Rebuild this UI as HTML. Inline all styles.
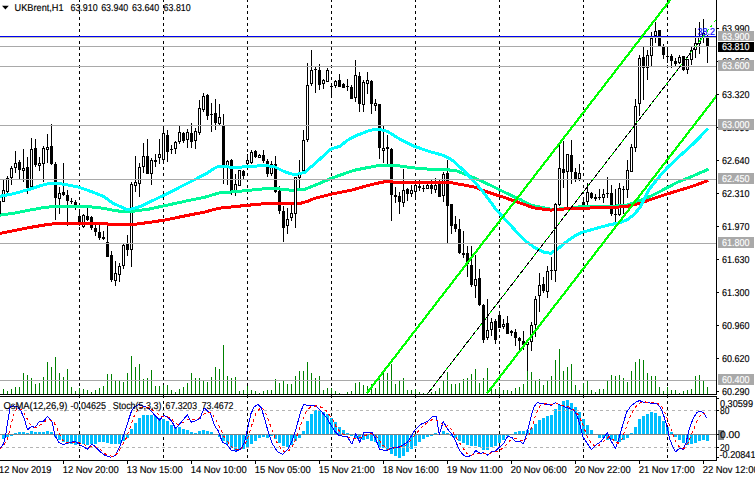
<!DOCTYPE html>
<html><head><meta charset="utf-8"><title>UKBrent H1</title>
<style>html,body{margin:0;padding:0;background:#fff;overflow:hidden}body{width:755px;height:480px;font-family:"Liberation Sans",sans-serif}</style>
</head><body><svg width="755" height="480" viewBox="0 0 755 480" style="display:block"><g shape-rendering="crispEdges">
<line x1="79.5" y1="-1" x2="79.5" y2="394" stroke="#000" stroke-width="1" stroke-dasharray="3,3"/>
<line x1="79.5" y1="395" x2="79.5" y2="460" stroke="#000" stroke-width="1" stroke-dasharray="3,3"/>
<line x1="163.5" y1="-1" x2="163.5" y2="394" stroke="#000" stroke-width="1" stroke-dasharray="3,3"/>
<line x1="163.5" y1="395" x2="163.5" y2="460" stroke="#000" stroke-width="1" stroke-dasharray="3,3"/>
<line x1="247.5" y1="-1" x2="247.5" y2="394" stroke="#000" stroke-width="1" stroke-dasharray="3,3"/>
<line x1="247.5" y1="395" x2="247.5" y2="460" stroke="#000" stroke-width="1" stroke-dasharray="3,3"/>
<line x1="331.5" y1="-1" x2="331.5" y2="394" stroke="#000" stroke-width="1" stroke-dasharray="3,3"/>
<line x1="331.5" y1="395" x2="331.5" y2="460" stroke="#000" stroke-width="1" stroke-dasharray="3,3"/>
<line x1="415.5" y1="-1" x2="415.5" y2="394" stroke="#000" stroke-width="1" stroke-dasharray="3,3"/>
<line x1="415.5" y1="395" x2="415.5" y2="460" stroke="#000" stroke-width="1" stroke-dasharray="3,3"/>
<line x1="499.5" y1="-1" x2="499.5" y2="394" stroke="#000" stroke-width="1" stroke-dasharray="3,3"/>
<line x1="499.5" y1="395" x2="499.5" y2="460" stroke="#000" stroke-width="1" stroke-dasharray="3,3"/>
<line x1="583.5" y1="-1" x2="583.5" y2="394" stroke="#000" stroke-width="1" stroke-dasharray="3,3"/>
<line x1="583.5" y1="395" x2="583.5" y2="460" stroke="#000" stroke-width="1" stroke-dasharray="3,3"/>
<line x1="667.5" y1="-1" x2="667.5" y2="394" stroke="#000" stroke-width="1" stroke-dasharray="3,3"/>
<line x1="667.5" y1="395" x2="667.5" y2="460" stroke="#000" stroke-width="1" stroke-dasharray="3,3"/>
<rect x="3" y="389" width="1" height="5" fill="#008000"/>
<rect x="7" y="391" width="1" height="3" fill="#008000"/>
<rect x="11" y="389" width="1" height="5" fill="#008000"/>
<rect x="15" y="387" width="1" height="7" fill="#008000"/>
<rect x="19" y="387" width="1" height="7" fill="#008000"/>
<rect x="23" y="373" width="1" height="21" fill="#008000"/>
<rect x="27" y="375" width="1" height="19" fill="#008000"/>
<rect x="31" y="378" width="1" height="16" fill="#008000"/>
<rect x="35" y="384" width="1" height="10" fill="#008000"/>
<rect x="39" y="383" width="1" height="11" fill="#008000"/>
<rect x="43" y="377" width="1" height="17" fill="#008000"/>
<rect x="47" y="362" width="1" height="32" fill="#008000"/>
<rect x="51" y="367" width="1" height="27" fill="#008000"/>
<rect x="55" y="357" width="1" height="37" fill="#008000"/>
<rect x="59" y="373" width="1" height="21" fill="#008000"/>
<rect x="63" y="377" width="1" height="17" fill="#008000"/>
<rect x="67" y="369" width="1" height="25" fill="#008000"/>
<rect x="71" y="387" width="1" height="7" fill="#008000"/>
<rect x="75" y="391" width="1" height="3" fill="#008000"/>
<rect x="79" y="388" width="1" height="6" fill="#008000"/>
<rect x="83" y="389" width="1" height="5" fill="#008000"/>
<rect x="87" y="390" width="1" height="4" fill="#008000"/>
<rect x="91" y="392" width="1" height="2" fill="#008000"/>
<rect x="95" y="390" width="1" height="4" fill="#008000"/>
<rect x="99" y="388" width="1" height="6" fill="#008000"/>
<rect x="103" y="386" width="1" height="8" fill="#008000"/>
<rect x="107" y="374" width="1" height="20" fill="#008000"/>
<rect x="111" y="374" width="1" height="20" fill="#008000"/>
<rect x="115" y="381" width="1" height="13" fill="#008000"/>
<rect x="119" y="381" width="1" height="13" fill="#008000"/>
<rect x="123" y="382" width="1" height="12" fill="#008000"/>
<rect x="127" y="373" width="1" height="21" fill="#008000"/>
<rect x="131" y="356" width="1" height="38" fill="#008000"/>
<rect x="135" y="367" width="1" height="27" fill="#008000"/>
<rect x="139" y="364" width="1" height="30" fill="#008000"/>
<rect x="143" y="379" width="1" height="15" fill="#008000"/>
<rect x="147" y="378" width="1" height="16" fill="#008000"/>
<rect x="151" y="370" width="1" height="24" fill="#008000"/>
<rect x="155" y="386" width="1" height="8" fill="#008000"/>
<rect x="159" y="386" width="1" height="8" fill="#008000"/>
<rect x="163" y="385" width="1" height="9" fill="#008000"/>
<rect x="167" y="385" width="1" height="9" fill="#008000"/>
<rect x="171" y="390" width="1" height="4" fill="#008000"/>
<rect x="175" y="392" width="1" height="2" fill="#008000"/>
<rect x="179" y="389" width="1" height="5" fill="#008000"/>
<rect x="183" y="387" width="1" height="7" fill="#008000"/>
<rect x="187" y="383" width="1" height="11" fill="#008000"/>
<rect x="191" y="373" width="1" height="21" fill="#008000"/>
<rect x="195" y="378" width="1" height="16" fill="#008000"/>
<rect x="199" y="378" width="1" height="16" fill="#008000"/>
<rect x="203" y="381" width="1" height="13" fill="#008000"/>
<rect x="207" y="382" width="1" height="12" fill="#008000"/>
<rect x="211" y="377" width="1" height="17" fill="#008000"/>
<rect x="215" y="367" width="1" height="27" fill="#008000"/>
<rect x="219" y="369" width="1" height="25" fill="#008000"/>
<rect x="223" y="345" width="1" height="49" fill="#008000"/>
<rect x="227" y="376" width="1" height="18" fill="#008000"/>
<rect x="231" y="378" width="1" height="16" fill="#008000"/>
<rect x="235" y="377" width="1" height="17" fill="#008000"/>
<rect x="239" y="391" width="1" height="3" fill="#008000"/>
<rect x="243" y="390" width="1" height="4" fill="#008000"/>
<rect x="247" y="386" width="1" height="8" fill="#008000"/>
<rect x="251" y="390" width="1" height="4" fill="#008000"/>
<rect x="255" y="391" width="1" height="3" fill="#008000"/>
<rect x="259" y="393" width="1" height="1" fill="#008000"/>
<rect x="263" y="391" width="1" height="3" fill="#008000"/>
<rect x="267" y="390" width="1" height="4" fill="#008000"/>
<rect x="271" y="390" width="1" height="4" fill="#008000"/>
<rect x="275" y="379" width="1" height="15" fill="#008000"/>
<rect x="279" y="383" width="1" height="11" fill="#008000"/>
<rect x="283" y="381" width="1" height="13" fill="#008000"/>
<rect x="287" y="384" width="1" height="10" fill="#008000"/>
<rect x="291" y="384" width="1" height="10" fill="#008000"/>
<rect x="295" y="376" width="1" height="18" fill="#008000"/>
<rect x="299" y="371" width="1" height="23" fill="#008000"/>
<rect x="303" y="371" width="1" height="23" fill="#008000"/>
<rect x="307" y="362" width="1" height="32" fill="#008000"/>
<rect x="311" y="373" width="1" height="21" fill="#008000"/>
<rect x="315" y="378" width="1" height="16" fill="#008000"/>
<rect x="319" y="376" width="1" height="18" fill="#008000"/>
<rect x="323" y="390" width="1" height="4" fill="#008000"/>
<rect x="327" y="388" width="1" height="6" fill="#008000"/>
<rect x="331" y="388" width="1" height="6" fill="#008000"/>
<rect x="335" y="391" width="1" height="3" fill="#008000"/>
<rect x="339" y="393" width="1" height="1" fill="#008000"/>
<rect x="347" y="392" width="1" height="2" fill="#008000"/>
<rect x="351" y="391" width="1" height="3" fill="#008000"/>
<rect x="355" y="383" width="1" height="11" fill="#008000"/>
<rect x="359" y="382" width="1" height="12" fill="#008000"/>
<rect x="363" y="385" width="1" height="9" fill="#008000"/>
<rect x="367" y="386" width="1" height="8" fill="#008000"/>
<rect x="371" y="384" width="1" height="10" fill="#008000"/>
<rect x="375" y="388" width="1" height="6" fill="#008000"/>
<rect x="379" y="377" width="1" height="17" fill="#008000"/>
<rect x="383" y="370" width="1" height="24" fill="#008000"/>
<rect x="387" y="373" width="1" height="21" fill="#008000"/>
<rect x="391" y="364" width="1" height="30" fill="#008000"/>
<rect x="395" y="384" width="1" height="10" fill="#008000"/>
<rect x="399" y="381" width="1" height="13" fill="#008000"/>
<rect x="403" y="378" width="1" height="16" fill="#008000"/>
<rect x="407" y="390" width="1" height="4" fill="#008000"/>
<rect x="411" y="390" width="1" height="4" fill="#008000"/>
<rect x="415" y="389" width="1" height="5" fill="#008000"/>
<rect x="419" y="392" width="1" height="2" fill="#008000"/>
<rect x="423" y="393" width="1" height="1" fill="#008000"/>
<rect x="427" y="393" width="1" height="1" fill="#008000"/>
<rect x="431" y="392" width="1" height="2" fill="#008000"/>
<rect x="435" y="391" width="1" height="3" fill="#008000"/>
<rect x="439" y="388" width="1" height="6" fill="#008000"/>
<rect x="443" y="381" width="1" height="13" fill="#008000"/>
<rect x="447" y="372" width="1" height="22" fill="#008000"/>
<rect x="451" y="384" width="1" height="10" fill="#008000"/>
<rect x="455" y="384" width="1" height="10" fill="#008000"/>
<rect x="459" y="383" width="1" height="11" fill="#008000"/>
<rect x="463" y="379" width="1" height="15" fill="#008000"/>
<rect x="467" y="378" width="1" height="16" fill="#008000"/>
<rect x="471" y="374" width="1" height="20" fill="#008000"/>
<rect x="475" y="369" width="1" height="25" fill="#008000"/>
<rect x="479" y="383" width="1" height="11" fill="#008000"/>
<rect x="483" y="378" width="1" height="16" fill="#008000"/>
<rect x="487" y="368" width="1" height="26" fill="#008000"/>
<rect x="491" y="388" width="1" height="6" fill="#008000"/>
<rect x="495" y="389" width="1" height="5" fill="#008000"/>
<rect x="499" y="387" width="1" height="7" fill="#008000"/>
<rect x="503" y="390" width="1" height="4" fill="#008000"/>
<rect x="507" y="390" width="1" height="4" fill="#008000"/>
<rect x="511" y="391" width="1" height="3" fill="#008000"/>
<rect x="515" y="388" width="1" height="6" fill="#008000"/>
<rect x="519" y="387" width="1" height="7" fill="#008000"/>
<rect x="523" y="384" width="1" height="10" fill="#008000"/>
<rect x="527" y="371" width="1" height="23" fill="#008000"/>
<rect x="531" y="372" width="1" height="22" fill="#008000"/>
<rect x="535" y="381" width="1" height="13" fill="#008000"/>
<rect x="539" y="379" width="1" height="15" fill="#008000"/>
<rect x="543" y="385" width="1" height="9" fill="#008000"/>
<rect x="547" y="381" width="1" height="13" fill="#008000"/>
<rect x="551" y="376" width="1" height="18" fill="#008000"/>
<rect x="555" y="360" width="1" height="34" fill="#008000"/>
<rect x="559" y="349" width="1" height="45" fill="#008000"/>
<rect x="563" y="371" width="1" height="23" fill="#008000"/>
<rect x="567" y="367" width="1" height="27" fill="#008000"/>
<rect x="571" y="364" width="1" height="30" fill="#008000"/>
<rect x="575" y="385" width="1" height="9" fill="#008000"/>
<rect x="579" y="390" width="1" height="4" fill="#008000"/>
<rect x="583" y="383" width="1" height="11" fill="#008000"/>
<rect x="587" y="381" width="1" height="13" fill="#008000"/>
<rect x="591" y="390" width="1" height="4" fill="#008000"/>
<rect x="595" y="392" width="1" height="2" fill="#008000"/>
<rect x="599" y="389" width="1" height="5" fill="#008000"/>
<rect x="603" y="389" width="1" height="5" fill="#008000"/>
<rect x="607" y="381" width="1" height="13" fill="#008000"/>
<rect x="611" y="375" width="1" height="19" fill="#008000"/>
<rect x="615" y="376" width="1" height="18" fill="#008000"/>
<rect x="619" y="375" width="1" height="19" fill="#008000"/>
<rect x="623" y="378" width="1" height="16" fill="#008000"/>
<rect x="627" y="382" width="1" height="12" fill="#008000"/>
<rect x="631" y="371" width="1" height="23" fill="#008000"/>
<rect x="635" y="362" width="1" height="32" fill="#008000"/>
<rect x="639" y="359" width="1" height="35" fill="#008000"/>
<rect x="643" y="360" width="1" height="34" fill="#008000"/>
<rect x="647" y="373" width="1" height="21" fill="#008000"/>
<rect x="651" y="376" width="1" height="18" fill="#008000"/>
<rect x="655" y="376" width="1" height="18" fill="#008000"/>
<rect x="659" y="387" width="1" height="7" fill="#008000"/>
<rect x="663" y="391" width="1" height="3" fill="#008000"/>
<rect x="667" y="387" width="1" height="7" fill="#008000"/>
<rect x="671" y="390" width="1" height="4" fill="#008000"/>
<rect x="675" y="390" width="1" height="4" fill="#008000"/>
<rect x="679" y="393" width="1" height="1" fill="#008000"/>
<rect x="683" y="391" width="1" height="3" fill="#008000"/>
<rect x="687" y="390" width="1" height="4" fill="#008000"/>
<rect x="691" y="389" width="1" height="5" fill="#008000"/>
<rect x="695" y="376" width="1" height="18" fill="#008000"/>
<rect x="699" y="375" width="1" height="19" fill="#008000"/>
<rect x="703" y="381" width="1" height="13" fill="#008000"/>
<rect x="707" y="387" width="1" height="7" fill="#008000"/>
<rect x="-1" y="200" width="1" height="14" fill="#000"/>
<rect x="-2" y="201" width="3" height="13" fill="#000"/>
<rect x="3" y="180" width="1" height="22" fill="#000"/>
<rect x="2" y="190" width="3" height="12" fill="#000"/>
<rect x="3" y="191" width="1" height="10" fill="#fff"/>
<rect x="7" y="176" width="1" height="17" fill="#000"/>
<rect x="6" y="178" width="3" height="14" fill="#000"/>
<rect x="7" y="179" width="1" height="12" fill="#fff"/>
<rect x="11" y="166" width="1" height="19" fill="#000"/>
<rect x="10" y="168" width="3" height="10" fill="#000"/>
<rect x="11" y="169" width="1" height="8" fill="#fff"/>
<rect x="15" y="151" width="1" height="22" fill="#000"/>
<rect x="14" y="163" width="3" height="5" fill="#000"/>
<rect x="15" y="164" width="1" height="3" fill="#fff"/>
<rect x="19" y="160" width="1" height="19" fill="#000"/>
<rect x="18" y="162" width="3" height="8" fill="#000"/>
<rect x="23" y="149" width="1" height="33" fill="#000"/>
<rect x="22" y="168" width="3" height="3" fill="#000"/>
<rect x="23" y="169" width="1" height="1" fill="#fff"/>
<rect x="27" y="157" width="1" height="37" fill="#000"/>
<rect x="26" y="167" width="3" height="21" fill="#000"/>
<rect x="31" y="138" width="1" height="50" fill="#000"/>
<rect x="30" y="149" width="3" height="38" fill="#000"/>
<rect x="31" y="150" width="1" height="36" fill="#fff"/>
<rect x="35" y="139" width="1" height="28" fill="#000"/>
<rect x="34" y="148" width="3" height="17" fill="#000"/>
<rect x="39" y="157" width="1" height="14" fill="#000"/>
<rect x="38" y="163" width="3" height="3" fill="#000"/>
<rect x="39" y="164" width="1" height="1" fill="#fff"/>
<rect x="43" y="146" width="1" height="36" fill="#000"/>
<rect x="42" y="148" width="3" height="16" fill="#000"/>
<rect x="43" y="149" width="1" height="14" fill="#fff"/>
<rect x="47" y="134" width="1" height="29" fill="#000"/>
<rect x="46" y="147" width="3" height="3" fill="#000"/>
<rect x="47" y="148" width="1" height="1" fill="#fff"/>
<rect x="51" y="124" width="1" height="41" fill="#000"/>
<rect x="50" y="146" width="3" height="18" fill="#000"/>
<rect x="55" y="162" width="1" height="58" fill="#000"/>
<rect x="54" y="164" width="3" height="34" fill="#000"/>
<rect x="59" y="187" width="1" height="27" fill="#000"/>
<rect x="58" y="193" width="3" height="6" fill="#000"/>
<rect x="59" y="194" width="1" height="4" fill="#fff"/>
<rect x="63" y="163" width="1" height="33" fill="#000"/>
<rect x="62" y="192" width="3" height="3" fill="#000"/>
<rect x="67" y="190" width="1" height="36" fill="#000"/>
<rect x="66" y="195" width="3" height="6" fill="#000"/>
<rect x="71" y="198" width="1" height="6" fill="#000"/>
<rect x="70" y="201" width="3" height="1" fill="#000"/>
<rect x="75" y="200" width="1" height="10" fill="#000"/>
<rect x="74" y="202" width="3" height="3" fill="#000"/>
<rect x="79" y="209" width="1" height="17" fill="#000"/>
<rect x="78" y="216" width="3" height="9" fill="#000"/>
<rect x="83" y="214" width="1" height="14" fill="#000"/>
<rect x="82" y="215" width="3" height="12" fill="#000"/>
<rect x="83" y="216" width="1" height="10" fill="#fff"/>
<rect x="87" y="208" width="1" height="13" fill="#000"/>
<rect x="86" y="216" width="3" height="4" fill="#000"/>
<rect x="91" y="216" width="1" height="14" fill="#000"/>
<rect x="90" y="217" width="3" height="11" fill="#000"/>
<rect x="95" y="224" width="1" height="12" fill="#000"/>
<rect x="94" y="228" width="3" height="4" fill="#000"/>
<rect x="99" y="224" width="1" height="16" fill="#000"/>
<rect x="98" y="232" width="3" height="6" fill="#000"/>
<rect x="103" y="231" width="1" height="9" fill="#000"/>
<rect x="102" y="237" width="3" height="2" fill="#000"/>
<rect x="107" y="225" width="1" height="32" fill="#000"/>
<rect x="106" y="242" width="3" height="15" fill="#000"/>
<rect x="111" y="251" width="1" height="31" fill="#000"/>
<rect x="110" y="255" width="3" height="25" fill="#000"/>
<rect x="115" y="261" width="1" height="25" fill="#000"/>
<rect x="114" y="273" width="3" height="8" fill="#000"/>
<rect x="115" y="274" width="1" height="6" fill="#fff"/>
<rect x="119" y="263" width="1" height="19" fill="#000"/>
<rect x="118" y="266" width="3" height="9" fill="#000"/>
<rect x="119" y="267" width="1" height="7" fill="#fff"/>
<rect x="123" y="244" width="1" height="25" fill="#000"/>
<rect x="122" y="245" width="3" height="21" fill="#000"/>
<rect x="123" y="246" width="1" height="19" fill="#fff"/>
<rect x="127" y="235" width="1" height="21" fill="#000"/>
<rect x="126" y="244" width="3" height="6" fill="#000"/>
<rect x="131" y="182" width="1" height="85" fill="#000"/>
<rect x="130" y="184" width="3" height="66" fill="#000"/>
<rect x="131" y="185" width="1" height="64" fill="#fff"/>
<rect x="135" y="156" width="1" height="36" fill="#000"/>
<rect x="134" y="182" width="3" height="4" fill="#000"/>
<rect x="135" y="183" width="1" height="2" fill="#fff"/>
<rect x="139" y="163" width="1" height="34" fill="#000"/>
<rect x="138" y="167" width="3" height="17" fill="#000"/>
<rect x="139" y="168" width="1" height="15" fill="#fff"/>
<rect x="143" y="143" width="1" height="30" fill="#000"/>
<rect x="142" y="156" width="3" height="11" fill="#000"/>
<rect x="143" y="157" width="1" height="9" fill="#fff"/>
<rect x="147" y="139" width="1" height="35" fill="#000"/>
<rect x="146" y="156" width="3" height="18" fill="#000"/>
<rect x="151" y="158" width="1" height="27" fill="#000"/>
<rect x="150" y="160" width="3" height="14" fill="#000"/>
<rect x="151" y="161" width="1" height="12" fill="#fff"/>
<rect x="155" y="154" width="1" height="13" fill="#000"/>
<rect x="154" y="160" width="3" height="2" fill="#000"/>
<rect x="159" y="139" width="1" height="25" fill="#000"/>
<rect x="158" y="154" width="3" height="4" fill="#000"/>
<rect x="159" y="155" width="1" height="2" fill="#fff"/>
<rect x="163" y="126" width="1" height="37" fill="#000"/>
<rect x="162" y="133" width="3" height="27" fill="#000"/>
<rect x="163" y="134" width="1" height="25" fill="#fff"/>
<rect x="167" y="130" width="1" height="32" fill="#000"/>
<rect x="166" y="135" width="3" height="17" fill="#000"/>
<rect x="171" y="145" width="1" height="9" fill="#000"/>
<rect x="170" y="149" width="3" height="1" fill="#000"/>
<rect x="175" y="141" width="1" height="13" fill="#000"/>
<rect x="174" y="142" width="3" height="7" fill="#000"/>
<rect x="175" y="143" width="1" height="5" fill="#fff"/>
<rect x="179" y="126" width="1" height="18" fill="#000"/>
<rect x="178" y="132" width="3" height="10" fill="#000"/>
<rect x="179" y="133" width="1" height="8" fill="#fff"/>
<rect x="183" y="132" width="1" height="11" fill="#000"/>
<rect x="182" y="133" width="3" height="8" fill="#000"/>
<rect x="187" y="129" width="1" height="19" fill="#000"/>
<rect x="186" y="132" width="3" height="8" fill="#000"/>
<rect x="187" y="133" width="1" height="6" fill="#fff"/>
<rect x="191" y="123" width="1" height="25" fill="#000"/>
<rect x="190" y="133" width="3" height="9" fill="#000"/>
<rect x="195" y="128" width="1" height="21" fill="#000"/>
<rect x="194" y="131" width="3" height="10" fill="#000"/>
<rect x="195" y="132" width="1" height="8" fill="#fff"/>
<rect x="199" y="100" width="1" height="35" fill="#000"/>
<rect x="198" y="108" width="3" height="25" fill="#000"/>
<rect x="199" y="109" width="1" height="23" fill="#fff"/>
<rect x="203" y="93" width="1" height="19" fill="#000"/>
<rect x="202" y="96" width="3" height="14" fill="#000"/>
<rect x="203" y="97" width="1" height="12" fill="#fff"/>
<rect x="207" y="94" width="1" height="26" fill="#000"/>
<rect x="206" y="95" width="3" height="21" fill="#000"/>
<rect x="211" y="103" width="1" height="29" fill="#000"/>
<rect x="210" y="114" width="3" height="1" fill="#000"/>
<rect x="215" y="99" width="1" height="31" fill="#000"/>
<rect x="214" y="113" width="3" height="10" fill="#000"/>
<rect x="219" y="104" width="1" height="21" fill="#000"/>
<rect x="218" y="117" width="3" height="7" fill="#000"/>
<rect x="219" y="118" width="1" height="5" fill="#fff"/>
<rect x="223" y="114" width="1" height="70" fill="#000"/>
<rect x="222" y="126" width="3" height="39" fill="#000"/>
<rect x="227" y="160" width="1" height="25" fill="#000"/>
<rect x="226" y="161" width="3" height="5" fill="#000"/>
<rect x="227" y="162" width="1" height="3" fill="#fff"/>
<rect x="231" y="159" width="1" height="36" fill="#000"/>
<rect x="230" y="160" width="3" height="31" fill="#000"/>
<rect x="235" y="174" width="1" height="22" fill="#000"/>
<rect x="234" y="184" width="3" height="8" fill="#000"/>
<rect x="235" y="185" width="1" height="6" fill="#fff"/>
<rect x="239" y="170" width="1" height="16" fill="#000"/>
<rect x="238" y="170" width="3" height="16" fill="#000"/>
<rect x="239" y="171" width="1" height="14" fill="#fff"/>
<rect x="243" y="170" width="1" height="9" fill="#000"/>
<rect x="242" y="171" width="3" height="5" fill="#000"/>
<rect x="247" y="154" width="1" height="11" fill="#000"/>
<rect x="246" y="160" width="3" height="4" fill="#000"/>
<rect x="247" y="161" width="1" height="2" fill="#fff"/>
<rect x="251" y="150" width="1" height="14" fill="#000"/>
<rect x="250" y="152" width="3" height="11" fill="#000"/>
<rect x="251" y="153" width="1" height="9" fill="#fff"/>
<rect x="255" y="150" width="1" height="8" fill="#000"/>
<rect x="254" y="151" width="3" height="6" fill="#000"/>
<rect x="259" y="154" width="1" height="4" fill="#000"/>
<rect x="258" y="155" width="3" height="3" fill="#000"/>
<rect x="259" y="156" width="1" height="1" fill="#fff"/>
<rect x="263" y="150" width="1" height="13" fill="#000"/>
<rect x="262" y="155" width="3" height="6" fill="#000"/>
<rect x="267" y="159" width="1" height="18" fill="#000"/>
<rect x="266" y="161" width="3" height="13" fill="#000"/>
<rect x="271" y="161" width="1" height="15" fill="#000"/>
<rect x="270" y="164" width="3" height="10" fill="#000"/>
<rect x="271" y="165" width="1" height="8" fill="#fff"/>
<rect x="275" y="156" width="1" height="37" fill="#000"/>
<rect x="274" y="164" width="3" height="28" fill="#000"/>
<rect x="279" y="186" width="1" height="28" fill="#000"/>
<rect x="278" y="191" width="3" height="20" fill="#000"/>
<rect x="283" y="206" width="1" height="36" fill="#000"/>
<rect x="282" y="211" width="3" height="17" fill="#000"/>
<rect x="287" y="208" width="1" height="26" fill="#000"/>
<rect x="286" y="219" width="3" height="7" fill="#000"/>
<rect x="287" y="220" width="1" height="5" fill="#fff"/>
<rect x="291" y="205" width="1" height="16" fill="#000"/>
<rect x="290" y="213" width="3" height="5" fill="#000"/>
<rect x="291" y="214" width="1" height="3" fill="#fff"/>
<rect x="295" y="177" width="1" height="51" fill="#000"/>
<rect x="294" y="177" width="3" height="37" fill="#000"/>
<rect x="295" y="178" width="1" height="35" fill="#fff"/>
<rect x="299" y="160" width="1" height="28" fill="#000"/>
<rect x="298" y="173" width="3" height="5" fill="#000"/>
<rect x="299" y="174" width="1" height="3" fill="#fff"/>
<rect x="303" y="130" width="1" height="41" fill="#000"/>
<rect x="302" y="140" width="3" height="31" fill="#000"/>
<rect x="303" y="141" width="1" height="29" fill="#fff"/>
<rect x="307" y="63" width="1" height="79" fill="#000"/>
<rect x="306" y="85" width="3" height="55" fill="#000"/>
<rect x="307" y="86" width="1" height="53" fill="#fff"/>
<rect x="311" y="50" width="1" height="36" fill="#000"/>
<rect x="310" y="70" width="3" height="14" fill="#000"/>
<rect x="311" y="71" width="1" height="12" fill="#fff"/>
<rect x="315" y="67" width="1" height="26" fill="#000"/>
<rect x="314" y="69" width="3" height="1" fill="#000"/>
<rect x="319" y="64" width="1" height="26" fill="#000"/>
<rect x="318" y="70" width="3" height="15" fill="#000"/>
<rect x="323" y="79" width="1" height="10" fill="#000"/>
<rect x="322" y="80" width="3" height="4" fill="#000"/>
<rect x="323" y="81" width="1" height="2" fill="#fff"/>
<rect x="327" y="68" width="1" height="14" fill="#000"/>
<rect x="326" y="70" width="3" height="12" fill="#000"/>
<rect x="327" y="71" width="1" height="10" fill="#fff"/>
<rect x="331" y="83" width="1" height="15" fill="#000"/>
<rect x="330" y="86" width="3" height="1" fill="#000"/>
<rect x="335" y="80" width="1" height="8" fill="#000"/>
<rect x="334" y="81" width="3" height="5" fill="#000"/>
<rect x="335" y="82" width="1" height="3" fill="#fff"/>
<rect x="339" y="74" width="1" height="13" fill="#000"/>
<rect x="338" y="80" width="3" height="7" fill="#000"/>
<rect x="343" y="83" width="1" height="5" fill="#000"/>
<rect x="342" y="84" width="3" height="4" fill="#000"/>
<rect x="347" y="79" width="1" height="12" fill="#000"/>
<rect x="346" y="86" width="3" height="1" fill="#000"/>
<rect x="351" y="85" width="1" height="14" fill="#000"/>
<rect x="350" y="87" width="3" height="12" fill="#000"/>
<rect x="355" y="60" width="1" height="42" fill="#000"/>
<rect x="354" y="75" width="3" height="23" fill="#000"/>
<rect x="355" y="76" width="1" height="21" fill="#fff"/>
<rect x="359" y="72" width="1" height="40" fill="#000"/>
<rect x="358" y="76" width="3" height="28" fill="#000"/>
<rect x="363" y="80" width="1" height="32" fill="#000"/>
<rect x="362" y="82" width="3" height="23" fill="#000"/>
<rect x="363" y="83" width="1" height="21" fill="#fff"/>
<rect x="367" y="72" width="1" height="22" fill="#000"/>
<rect x="366" y="80" width="3" height="4" fill="#000"/>
<rect x="367" y="81" width="1" height="2" fill="#fff"/>
<rect x="371" y="80" width="1" height="34" fill="#000"/>
<rect x="370" y="81" width="3" height="23" fill="#000"/>
<rect x="375" y="99" width="1" height="12" fill="#000"/>
<rect x="374" y="103" width="3" height="3" fill="#000"/>
<rect x="375" y="104" width="1" height="1" fill="#fff"/>
<rect x="379" y="104" width="1" height="55" fill="#000"/>
<rect x="378" y="104" width="3" height="44" fill="#000"/>
<rect x="383" y="126" width="1" height="37" fill="#000"/>
<rect x="382" y="148" width="3" height="3" fill="#000"/>
<rect x="383" y="149" width="1" height="1" fill="#fff"/>
<rect x="387" y="135" width="1" height="29" fill="#000"/>
<rect x="386" y="147" width="3" height="2" fill="#000"/>
<rect x="391" y="148" width="1" height="73" fill="#000"/>
<rect x="390" y="149" width="3" height="46" fill="#000"/>
<rect x="395" y="187" width="1" height="16" fill="#000"/>
<rect x="394" y="195" width="3" height="2" fill="#000"/>
<rect x="399" y="192" width="1" height="22" fill="#000"/>
<rect x="398" y="196" width="3" height="6" fill="#000"/>
<rect x="403" y="169" width="1" height="38" fill="#000"/>
<rect x="402" y="190" width="3" height="13" fill="#000"/>
<rect x="403" y="191" width="1" height="11" fill="#fff"/>
<rect x="407" y="188" width="1" height="13" fill="#000"/>
<rect x="406" y="189" width="3" height="5" fill="#000"/>
<rect x="411" y="185" width="1" height="12" fill="#000"/>
<rect x="410" y="190" width="3" height="4" fill="#000"/>
<rect x="411" y="191" width="1" height="2" fill="#fff"/>
<rect x="415" y="180" width="1" height="20" fill="#000"/>
<rect x="414" y="185" width="3" height="7" fill="#000"/>
<rect x="415" y="186" width="1" height="5" fill="#fff"/>
<rect x="419" y="180" width="1" height="11" fill="#000"/>
<rect x="418" y="186" width="3" height="2" fill="#000"/>
<rect x="423" y="185" width="1" height="7" fill="#000"/>
<rect x="422" y="188" width="3" height="1" fill="#000"/>
<rect x="427" y="181" width="1" height="8" fill="#000"/>
<rect x="426" y="185" width="3" height="4" fill="#000"/>
<rect x="427" y="186" width="1" height="2" fill="#fff"/>
<rect x="431" y="180" width="1" height="14" fill="#000"/>
<rect x="430" y="185" width="3" height="4" fill="#000"/>
<rect x="435" y="178" width="1" height="15" fill="#000"/>
<rect x="434" y="185" width="3" height="5" fill="#000"/>
<rect x="435" y="186" width="1" height="3" fill="#fff"/>
<rect x="439" y="180" width="1" height="17" fill="#000"/>
<rect x="438" y="181" width="3" height="16" fill="#000"/>
<rect x="443" y="172" width="1" height="30" fill="#000"/>
<rect x="442" y="174" width="3" height="22" fill="#000"/>
<rect x="443" y="175" width="1" height="20" fill="#fff"/>
<rect x="447" y="160" width="1" height="83" fill="#000"/>
<rect x="446" y="173" width="3" height="33" fill="#000"/>
<rect x="451" y="204" width="1" height="30" fill="#000"/>
<rect x="450" y="204" width="3" height="22" fill="#000"/>
<rect x="455" y="216" width="1" height="16" fill="#000"/>
<rect x="454" y="224" width="3" height="5" fill="#000"/>
<rect x="459" y="219" width="1" height="35" fill="#000"/>
<rect x="458" y="229" width="3" height="24" fill="#000"/>
<rect x="463" y="231" width="1" height="27" fill="#000"/>
<rect x="462" y="253" width="3" height="2" fill="#000"/>
<rect x="467" y="246" width="1" height="31" fill="#000"/>
<rect x="466" y="253" width="3" height="11" fill="#000"/>
<rect x="471" y="246" width="1" height="41" fill="#000"/>
<rect x="470" y="265" width="3" height="20" fill="#000"/>
<rect x="475" y="255" width="1" height="43" fill="#000"/>
<rect x="474" y="279" width="3" height="7" fill="#000"/>
<rect x="475" y="280" width="1" height="5" fill="#fff"/>
<rect x="479" y="269" width="1" height="37" fill="#000"/>
<rect x="478" y="278" width="3" height="27" fill="#000"/>
<rect x="483" y="304" width="1" height="39" fill="#000"/>
<rect x="482" y="305" width="3" height="35" fill="#000"/>
<rect x="487" y="299" width="1" height="41" fill="#000"/>
<rect x="486" y="330" width="3" height="8" fill="#000"/>
<rect x="487" y="331" width="1" height="6" fill="#fff"/>
<rect x="491" y="318" width="1" height="18" fill="#000"/>
<rect x="490" y="322" width="3" height="8" fill="#000"/>
<rect x="491" y="323" width="1" height="6" fill="#fff"/>
<rect x="495" y="319" width="1" height="25" fill="#000"/>
<rect x="494" y="321" width="3" height="19" fill="#000"/>
<rect x="499" y="311" width="1" height="17" fill="#000"/>
<rect x="498" y="315" width="3" height="13" fill="#000"/>
<rect x="503" y="319" width="1" height="10" fill="#000"/>
<rect x="502" y="324" width="3" height="3" fill="#000"/>
<rect x="503" y="325" width="1" height="1" fill="#fff"/>
<rect x="507" y="316" width="1" height="18" fill="#000"/>
<rect x="506" y="323" width="3" height="11" fill="#000"/>
<rect x="511" y="330" width="1" height="6" fill="#000"/>
<rect x="510" y="331" width="3" height="2" fill="#000"/>
<rect x="515" y="329" width="1" height="17" fill="#000"/>
<rect x="514" y="332" width="3" height="6" fill="#000"/>
<rect x="519" y="337" width="1" height="13" fill="#000"/>
<rect x="518" y="338" width="3" height="3" fill="#000"/>
<rect x="523" y="331" width="1" height="19" fill="#000"/>
<rect x="522" y="341" width="3" height="4" fill="#000"/>
<rect x="527" y="341" width="1" height="30" fill="#000"/>
<rect x="526" y="342" width="3" height="3" fill="#000"/>
<rect x="527" y="343" width="1" height="1" fill="#fff"/>
<rect x="531" y="322" width="1" height="29" fill="#000"/>
<rect x="530" y="325" width="3" height="17" fill="#000"/>
<rect x="531" y="326" width="1" height="15" fill="#fff"/>
<rect x="535" y="296" width="1" height="41" fill="#000"/>
<rect x="534" y="299" width="3" height="26" fill="#000"/>
<rect x="535" y="300" width="1" height="24" fill="#fff"/>
<rect x="539" y="273" width="1" height="39" fill="#000"/>
<rect x="538" y="285" width="3" height="11" fill="#000"/>
<rect x="539" y="286" width="1" height="9" fill="#fff"/>
<rect x="543" y="277" width="1" height="16" fill="#000"/>
<rect x="542" y="284" width="3" height="7" fill="#000"/>
<rect x="547" y="266" width="1" height="32" fill="#000"/>
<rect x="546" y="271" width="3" height="21" fill="#000"/>
<rect x="547" y="272" width="1" height="19" fill="#fff"/>
<rect x="551" y="257" width="1" height="23" fill="#000"/>
<rect x="550" y="270" width="3" height="1" fill="#000"/>
<rect x="555" y="203" width="1" height="79" fill="#000"/>
<rect x="554" y="204" width="3" height="67" fill="#000"/>
<rect x="555" y="205" width="1" height="65" fill="#fff"/>
<rect x="559" y="142" width="1" height="64" fill="#000"/>
<rect x="558" y="168" width="3" height="37" fill="#000"/>
<rect x="559" y="169" width="1" height="35" fill="#fff"/>
<rect x="563" y="141" width="1" height="47" fill="#000"/>
<rect x="562" y="169" width="3" height="4" fill="#000"/>
<rect x="567" y="154" width="1" height="55" fill="#000"/>
<rect x="566" y="154" width="3" height="18" fill="#000"/>
<rect x="567" y="155" width="1" height="16" fill="#fff"/>
<rect x="571" y="140" width="1" height="44" fill="#000"/>
<rect x="570" y="155" width="3" height="17" fill="#000"/>
<rect x="575" y="168" width="1" height="14" fill="#000"/>
<rect x="574" y="172" width="3" height="7" fill="#000"/>
<rect x="579" y="164" width="1" height="17" fill="#000"/>
<rect x="578" y="173" width="3" height="6" fill="#000"/>
<rect x="579" y="174" width="1" height="4" fill="#fff"/>
<rect x="583" y="200" width="1" height="6" fill="#000"/>
<rect x="582" y="202" width="3" height="3" fill="#000"/>
<rect x="587" y="183" width="1" height="22" fill="#000"/>
<rect x="586" y="192" width="3" height="10" fill="#000"/>
<rect x="587" y="193" width="1" height="8" fill="#fff"/>
<rect x="591" y="192" width="1" height="7" fill="#000"/>
<rect x="590" y="193" width="3" height="5" fill="#000"/>
<rect x="595" y="194" width="1" height="7" fill="#000"/>
<rect x="594" y="197" width="3" height="2" fill="#000"/>
<rect x="599" y="189" width="1" height="11" fill="#000"/>
<rect x="598" y="197" width="3" height="1" fill="#000"/>
<rect x="603" y="189" width="1" height="14" fill="#000"/>
<rect x="602" y="194" width="3" height="4" fill="#000"/>
<rect x="603" y="195" width="1" height="2" fill="#fff"/>
<rect x="607" y="177" width="1" height="21" fill="#000"/>
<rect x="606" y="193" width="3" height="1" fill="#000"/>
<rect x="611" y="185" width="1" height="31" fill="#000"/>
<rect x="610" y="193" width="3" height="21" fill="#000"/>
<rect x="615" y="189" width="1" height="34" fill="#000"/>
<rect x="614" y="214" width="3" height="1" fill="#000"/>
<rect x="619" y="183" width="1" height="33" fill="#000"/>
<rect x="618" y="188" width="3" height="27" fill="#000"/>
<rect x="619" y="189" width="1" height="25" fill="#fff"/>
<rect x="623" y="186" width="1" height="28" fill="#000"/>
<rect x="622" y="189" width="3" height="1" fill="#000"/>
<rect x="627" y="160" width="1" height="38" fill="#000"/>
<rect x="626" y="170" width="3" height="20" fill="#000"/>
<rect x="627" y="171" width="1" height="18" fill="#fff"/>
<rect x="631" y="144" width="1" height="28" fill="#000"/>
<rect x="630" y="147" width="3" height="25" fill="#000"/>
<rect x="631" y="148" width="1" height="23" fill="#fff"/>
<rect x="635" y="99" width="1" height="53" fill="#000"/>
<rect x="634" y="106" width="3" height="42" fill="#000"/>
<rect x="635" y="107" width="1" height="40" fill="#fff"/>
<rect x="639" y="55" width="1" height="61" fill="#000"/>
<rect x="638" y="58" width="3" height="46" fill="#000"/>
<rect x="639" y="59" width="1" height="44" fill="#fff"/>
<rect x="643" y="46" width="1" height="54" fill="#000"/>
<rect x="642" y="57" width="3" height="11" fill="#000"/>
<rect x="647" y="50" width="1" height="30" fill="#000"/>
<rect x="646" y="55" width="3" height="13" fill="#000"/>
<rect x="647" y="56" width="1" height="11" fill="#fff"/>
<rect x="651" y="32" width="1" height="34" fill="#000"/>
<rect x="650" y="38" width="3" height="18" fill="#000"/>
<rect x="651" y="39" width="1" height="16" fill="#fff"/>
<rect x="655" y="22" width="1" height="21" fill="#000"/>
<rect x="654" y="31" width="3" height="5" fill="#000"/>
<rect x="655" y="32" width="1" height="3" fill="#fff"/>
<rect x="659" y="30" width="1" height="16" fill="#000"/>
<rect x="658" y="30" width="3" height="16" fill="#000"/>
<rect x="663" y="44" width="1" height="15" fill="#000"/>
<rect x="662" y="46" width="3" height="9" fill="#000"/>
<rect x="667" y="50" width="1" height="13" fill="#000"/>
<rect x="666" y="56" width="3" height="1" fill="#000"/>
<rect x="671" y="54" width="1" height="14" fill="#000"/>
<rect x="670" y="56" width="3" height="5" fill="#000"/>
<rect x="675" y="58" width="1" height="8" fill="#000"/>
<rect x="674" y="61" width="3" height="3" fill="#000"/>
<rect x="679" y="55" width="1" height="9" fill="#000"/>
<rect x="678" y="57" width="3" height="6" fill="#000"/>
<rect x="679" y="58" width="1" height="4" fill="#fff"/>
<rect x="683" y="56" width="1" height="15" fill="#000"/>
<rect x="682" y="56" width="3" height="14" fill="#000"/>
<rect x="687" y="59" width="1" height="15" fill="#000"/>
<rect x="686" y="59" width="3" height="11" fill="#000"/>
<rect x="687" y="60" width="1" height="9" fill="#fff"/>
<rect x="691" y="46" width="1" height="19" fill="#000"/>
<rect x="690" y="50" width="3" height="10" fill="#000"/>
<rect x="691" y="51" width="1" height="8" fill="#fff"/>
<rect x="695" y="28" width="1" height="30" fill="#000"/>
<rect x="694" y="43" width="3" height="7" fill="#000"/>
<rect x="695" y="44" width="1" height="5" fill="#fff"/>
<rect x="699" y="22" width="1" height="32" fill="#000"/>
<rect x="698" y="37" width="3" height="7" fill="#000"/>
<rect x="699" y="38" width="1" height="5" fill="#fff"/>
<rect x="703" y="19" width="1" height="24" fill="#000"/>
<rect x="702" y="33" width="3" height="3" fill="#000"/>
<rect x="703" y="34" width="1" height="1" fill="#fff"/>
<rect x="707" y="35" width="1" height="28" fill="#000"/>
<rect x="706" y="38" width="3" height="9" fill="#000"/>
</g>
<g shape-rendering="crispEdges">
<polyline points="0.0,215.2 14.8,213.0 29.7,210.1 44.5,207.4 56.4,206.4 89.0,206.7 103.9,208.3 112.9,210.2 123.3,211.7 133.7,211.1 148.5,209.2 163.3,206.0 178.2,202.8 193.0,199.5 204.0,197.5 218.8,193.0 233.7,191.8 248.5,190.4 263.3,188.9 273.7,188.3 293.0,190.4 304.9,189.3 316.0,184.9 331.0,178.4 353.6,170.4 365.0,168.1 376.3,166.0 383.8,165.3 392.0,165.5 400.0,166.0 410.0,167.5 420.0,168.5 431.3,169.3 446.2,169.6 456.7,170.9 465.0,174.2 473.3,177.5 484.0,182.3 490.0,185.0 506.7,193.3 520.0,199.4 531.0,205.2 551.0,209.3 570.0,208.6 580.5,206.5 610.0,206.2 625.4,205.7 632.4,203.4 639.9,200.4 648.0,197.4 653.0,195.0 660.0,191.5 676.7,182.6 690.8,176.9 708.4,169.2" fill="none" stroke="#00fa9a" stroke-width="3" stroke-linejoin="round" />
<polyline points="0.0,233.4 14.8,230.4 29.7,227.5 44.5,225.0 52.0,224.0 66.8,223.5 89.0,223.5 104.0,223.7 118.8,225.0 133.7,224.4 148.5,222.5 163.3,220.3 178.2,217.3 193.0,214.3 204.0,212.3 218.8,208.2 233.7,206.7 248.5,205.2 263.3,203.8 278.2,203.6 300.0,203.4 307.9,201.2 315.0,198.2 331.2,194.2 352.0,190.0 372.0,184.4 383.9,181.9 416.5,182.3 452.1,182.9 467.0,185.6 475.9,187.4 484.0,190.8 505.8,198.0 531.0,206.8 536.0,208.3 550.8,210.1 565.7,208.9 595.3,207.8 625.0,206.8 639.9,203.4 648.0,200.4 665.7,194.4 690.8,186.8 708.4,180.5" fill="none" stroke="#ff0000" stroke-width="3" stroke-linejoin="round" />
<polyline points="0.0,196.3 14.8,193.4 29.7,189.2 44.5,184.5 52.0,183.0 63.8,184.2 77.0,186.7 89.0,190.7 103.9,196.6 112.9,203.2 121.8,207.2 127.5,209.8 133.7,208.4 140.0,206.6 148.5,202.6 163.3,195.5 178.2,188.0 193.0,180.5 207.9,172.8 211.4,170.0 218.8,166.0 233.7,167.5 248.5,166.6 263.3,165.6 273.7,166.3 284.1,171.5 294.5,174.9 304.9,172.3 316.0,162.6 331.0,149.0 340.0,146.2 347.4,140.3 354.8,136.2 369.7,130.3 378.6,129.1 387.5,131.4 399.3,138.8 414.2,146.2 429.0,151.4 443.9,155.5 452.0,160.0 455.1,162.6 464.0,170.8 475.9,183.4 484.0,193.0 496.4,210.0 505.3,219.6 514.2,229.3 526.0,241.5 535.0,247.8 543.4,252.1 550.8,253.3 558.3,248.4 565.7,242.4 573.1,237.0 580.5,232.8 595.3,228.6 610.2,224.6 619.1,223.0 628.0,219.5 633.9,214.5 639.9,207.8 648.0,191.5 650.6,187.5 660.0,175.8 667.5,167.5 680.0,155.8 693.3,143.7 708.0,128.8" fill="none" stroke="#00ffff" stroke-width="3" stroke-linejoin="round" />
<rect x="294" y="177" width="3" height="37" fill="#000"/>
<rect x="295" y="178" width="1" height="35" fill="#fff"/>
<rect x="554" y="204" width="3" height="67" fill="#000"/>
<rect x="555" y="205" width="1" height="65" fill="#fff"/>
<rect x="0" y="46" width="716" height="1" fill="#a9a9a9"/>
<rect x="0" y="66" width="716" height="1" fill="#a9a9a9"/>
<rect x="0" y="125" width="716" height="1" fill="#a9a9a9"/>
<rect x="0" y="179" width="716" height="1" fill="#a9a9a9"/>
<rect x="0" y="243" width="716" height="1" fill="#a9a9a9"/>
<rect x="0" y="380" width="716" height="1" fill="#a9a9a9"/>
<rect x="0" y="37" width="716" height="1" fill="#c8c8aa"/>
<rect x="0" y="36" width="716" height="1" fill="#0000f0"/>
</g>
<defs><clipPath id="cm"><rect x="0" y="0" width="716" height="394"/></clipPath></defs>
<g clip-path="url(#cm)" shape-rendering="crispEdges">
<line x1="366.6" y1="393.5" x2="760" y2="-116.4" stroke="#00ff00" stroke-width="2.2" />
<line x1="487" y1="393.5" x2="760" y2="39.6" stroke="#00ff00" stroke-width="2.2" />
<line x1="427.8" y1="393.5" x2="760" y2="-37.1" stroke="#00ff00" stroke-width="1" stroke-dasharray="454,3,3,3,3,3,3,3,3,3,3,3"/>
<line x1="427.8" y1="393.5" x2="698" y2="43.3" stroke="#000" stroke-width="1" stroke-dasharray="6,2"/>
</g>
<g shape-rendering="crispEdges">
<rect x="0" y="394" width="717" height="1" fill="#000"/>
<rect x="0" y="396" width="717" height="1" fill="#000"/>
<rect x="716" y="0" width="1" height="394" fill="#000"/>
<rect x="716" y="396" width="1" height="65" fill="#000"/>
<rect x="0" y="460" width="717" height="1" fill="#000"/>
</g>
<g shape-rendering="crispEdges">
<rect x="2" y="435" width="3" height="4" fill="#00bfff"/>
<rect x="6" y="435" width="3" height="2" fill="#00bfff"/>
<rect x="10" y="435" width="3" height="1" fill="#00bfff"/>
<rect x="14" y="433" width="3" height="1" fill="#00bfff"/>
<rect x="18" y="432" width="3" height="2" fill="#00bfff"/>
<rect x="22" y="432" width="3" height="2" fill="#00bfff"/>
<rect x="26" y="433" width="3" height="1" fill="#00bfff"/>
<rect x="30" y="431" width="3" height="3" fill="#00bfff"/>
<rect x="34" y="432" width="3" height="2" fill="#00bfff"/>
<rect x="38" y="432" width="3" height="2" fill="#00bfff"/>
<rect x="42" y="432" width="3" height="2" fill="#00bfff"/>
<rect x="46" y="431" width="3" height="3" fill="#00bfff"/>
<rect x="50" y="432" width="3" height="2" fill="#00bfff"/>
<rect x="54" y="435" width="3" height="2" fill="#00bfff"/>
<rect x="58" y="435" width="3" height="5" fill="#00bfff"/>
<rect x="62" y="435" width="3" height="7" fill="#00bfff"/>
<rect x="66" y="435" width="3" height="9" fill="#00bfff"/>
<rect x="70" y="435" width="3" height="9" fill="#00bfff"/>
<rect x="74" y="435" width="3" height="10" fill="#00bfff"/>
<rect x="78" y="435" width="3" height="8" fill="#00bfff"/>
<rect x="82" y="435" width="3" height="9" fill="#00bfff"/>
<rect x="86" y="435" width="3" height="10" fill="#00bfff"/>
<rect x="90" y="435" width="3" height="9" fill="#00bfff"/>
<rect x="94" y="435" width="3" height="9" fill="#00bfff"/>
<rect x="98" y="435" width="3" height="7" fill="#00bfff"/>
<rect x="102" y="435" width="3" height="7" fill="#00bfff"/>
<rect x="106" y="435" width="3" height="8" fill="#00bfff"/>
<rect x="110" y="435" width="3" height="9" fill="#00bfff"/>
<rect x="114" y="435" width="3" height="9" fill="#00bfff"/>
<rect x="118" y="435" width="3" height="9" fill="#00bfff"/>
<rect x="122" y="435" width="3" height="6" fill="#00bfff"/>
<rect x="126" y="435" width="3" height="3" fill="#00bfff"/>
<rect x="130" y="429" width="3" height="5" fill="#00bfff"/>
<rect x="134" y="423" width="3" height="11" fill="#00bfff"/>
<rect x="138" y="418" width="3" height="16" fill="#00bfff"/>
<rect x="142" y="415" width="3" height="19" fill="#00bfff"/>
<rect x="146" y="415" width="3" height="19" fill="#00bfff"/>
<rect x="150" y="415" width="3" height="19" fill="#00bfff"/>
<rect x="154" y="416" width="3" height="18" fill="#00bfff"/>
<rect x="158" y="418" width="3" height="16" fill="#00bfff"/>
<rect x="162" y="419" width="3" height="15" fill="#00bfff"/>
<rect x="166" y="421" width="3" height="13" fill="#00bfff"/>
<rect x="170" y="425" width="3" height="9" fill="#00bfff"/>
<rect x="174" y="427" width="3" height="7" fill="#00bfff"/>
<rect x="178" y="427" width="3" height="7" fill="#00bfff"/>
<rect x="182" y="429" width="3" height="5" fill="#00bfff"/>
<rect x="186" y="430" width="3" height="4" fill="#00bfff"/>
<rect x="190" y="432" width="3" height="2" fill="#00bfff"/>
<rect x="194" y="433" width="3" height="1" fill="#00bfff"/>
<rect x="198" y="431" width="3" height="3" fill="#00bfff"/>
<rect x="202" y="430" width="3" height="4" fill="#00bfff"/>
<rect x="206" y="431" width="3" height="3" fill="#00bfff"/>
<rect x="210" y="432" width="3" height="2" fill="#00bfff"/>
<rect x="218" y="435" width="3" height="2" fill="#00bfff"/>
<rect x="222" y="435" width="3" height="6" fill="#00bfff"/>
<rect x="226" y="435" width="3" height="9" fill="#00bfff"/>
<rect x="230" y="435" width="3" height="13" fill="#00bfff"/>
<rect x="234" y="435" width="3" height="16" fill="#00bfff"/>
<rect x="238" y="435" width="3" height="15" fill="#00bfff"/>
<rect x="242" y="435" width="3" height="14" fill="#00bfff"/>
<rect x="246" y="435" width="3" height="12" fill="#00bfff"/>
<rect x="250" y="435" width="3" height="9" fill="#00bfff"/>
<rect x="254" y="435" width="3" height="6" fill="#00bfff"/>
<rect x="258" y="435" width="3" height="3" fill="#00bfff"/>
<rect x="262" y="435" width="3" height="2" fill="#00bfff"/>
<rect x="266" y="435" width="3" height="3" fill="#00bfff"/>
<rect x="270" y="435" width="3" height="1" fill="#00bfff"/>
<rect x="274" y="435" width="3" height="4" fill="#00bfff"/>
<rect x="278" y="435" width="3" height="8" fill="#00bfff"/>
<rect x="282" y="435" width="3" height="11" fill="#00bfff"/>
<rect x="286" y="435" width="3" height="12" fill="#00bfff"/>
<rect x="290" y="435" width="3" height="10" fill="#00bfff"/>
<rect x="294" y="435" width="3" height="6" fill="#00bfff"/>
<rect x="298" y="435" width="3" height="3" fill="#00bfff"/>
<rect x="302" y="431" width="3" height="3" fill="#00bfff"/>
<rect x="306" y="421" width="3" height="13" fill="#00bfff"/>
<rect x="310" y="414" width="3" height="20" fill="#00bfff"/>
<rect x="314" y="410" width="3" height="24" fill="#00bfff"/>
<rect x="318" y="410" width="3" height="24" fill="#00bfff"/>
<rect x="322" y="412" width="3" height="22" fill="#00bfff"/>
<rect x="326" y="414" width="3" height="20" fill="#00bfff"/>
<rect x="330" y="418" width="3" height="16" fill="#00bfff"/>
<rect x="334" y="422" width="3" height="12" fill="#00bfff"/>
<rect x="338" y="427" width="3" height="7" fill="#00bfff"/>
<rect x="342" y="430" width="3" height="4" fill="#00bfff"/>
<rect x="346" y="433" width="3" height="1" fill="#00bfff"/>
<rect x="350" y="435" width="3" height="1" fill="#00bfff"/>
<rect x="354" y="435" width="3" height="3" fill="#00bfff"/>
<rect x="358" y="435" width="3" height="4" fill="#00bfff"/>
<rect x="362" y="435" width="3" height="5" fill="#00bfff"/>
<rect x="366" y="435" width="3" height="4" fill="#00bfff"/>
<rect x="370" y="435" width="3" height="6" fill="#00bfff"/>
<rect x="374" y="435" width="3" height="7" fill="#00bfff"/>
<rect x="378" y="435" width="3" height="12" fill="#00bfff"/>
<rect x="382" y="435" width="3" height="13" fill="#00bfff"/>
<rect x="386" y="435" width="3" height="15" fill="#00bfff"/>
<rect x="390" y="435" width="3" height="19" fill="#00bfff"/>
<rect x="394" y="435" width="3" height="21" fill="#00bfff"/>
<rect x="398" y="435" width="3" height="23" fill="#00bfff"/>
<rect x="402" y="435" width="3" height="21" fill="#00bfff"/>
<rect x="406" y="435" width="3" height="17" fill="#00bfff"/>
<rect x="410" y="435" width="3" height="14" fill="#00bfff"/>
<rect x="414" y="435" width="3" height="11" fill="#00bfff"/>
<rect x="418" y="435" width="3" height="7" fill="#00bfff"/>
<rect x="422" y="435" width="3" height="4" fill="#00bfff"/>
<rect x="426" y="435" width="3" height="2" fill="#00bfff"/>
<rect x="430" y="435" width="3" height="1" fill="#00bfff"/>
<rect x="434" y="433" width="3" height="1" fill="#00bfff"/>
<rect x="442" y="431" width="3" height="3" fill="#00bfff"/>
<rect x="446" y="433" width="3" height="1" fill="#00bfff"/>
<rect x="450" y="435" width="3" height="1" fill="#00bfff"/>
<rect x="454" y="435" width="3" height="3" fill="#00bfff"/>
<rect x="458" y="435" width="3" height="6" fill="#00bfff"/>
<rect x="462" y="435" width="3" height="8" fill="#00bfff"/>
<rect x="466" y="435" width="3" height="10" fill="#00bfff"/>
<rect x="470" y="435" width="3" height="11" fill="#00bfff"/>
<rect x="474" y="435" width="3" height="11" fill="#00bfff"/>
<rect x="478" y="435" width="3" height="12" fill="#00bfff"/>
<rect x="482" y="435" width="3" height="15" fill="#00bfff"/>
<rect x="486" y="435" width="3" height="15" fill="#00bfff"/>
<rect x="490" y="435" width="3" height="12" fill="#00bfff"/>
<rect x="494" y="435" width="3" height="11" fill="#00bfff"/>
<rect x="498" y="435" width="3" height="8" fill="#00bfff"/>
<rect x="502" y="435" width="3" height="5" fill="#00bfff"/>
<rect x="506" y="435" width="3" height="1" fill="#00bfff"/>
<rect x="514" y="432" width="3" height="2" fill="#00bfff"/>
<rect x="518" y="431" width="3" height="3" fill="#00bfff"/>
<rect x="522" y="431" width="3" height="3" fill="#00bfff"/>
<rect x="526" y="430" width="3" height="4" fill="#00bfff"/>
<rect x="530" y="428" width="3" height="6" fill="#00bfff"/>
<rect x="534" y="424" width="3" height="10" fill="#00bfff"/>
<rect x="538" y="420" width="3" height="14" fill="#00bfff"/>
<rect x="542" y="418" width="3" height="16" fill="#00bfff"/>
<rect x="546" y="416" width="3" height="18" fill="#00bfff"/>
<rect x="550" y="415" width="3" height="19" fill="#00bfff"/>
<rect x="554" y="409" width="3" height="25" fill="#00bfff"/>
<rect x="558" y="405" width="3" height="29" fill="#00bfff"/>
<rect x="562" y="401" width="3" height="33" fill="#00bfff"/>
<rect x="566" y="400" width="3" height="34" fill="#00bfff"/>
<rect x="570" y="403" width="3" height="31" fill="#00bfff"/>
<rect x="574" y="407" width="3" height="27" fill="#00bfff"/>
<rect x="578" y="412" width="3" height="22" fill="#00bfff"/>
<rect x="582" y="419" width="3" height="15" fill="#00bfff"/>
<rect x="586" y="425" width="3" height="9" fill="#00bfff"/>
<rect x="590" y="430" width="3" height="4" fill="#00bfff"/>
<rect x="598" y="435" width="3" height="3" fill="#00bfff"/>
<rect x="602" y="435" width="3" height="3" fill="#00bfff"/>
<rect x="606" y="435" width="3" height="5" fill="#00bfff"/>
<rect x="610" y="435" width="3" height="5" fill="#00bfff"/>
<rect x="614" y="435" width="3" height="6" fill="#00bfff"/>
<rect x="618" y="435" width="3" height="7" fill="#00bfff"/>
<rect x="622" y="435" width="3" height="5" fill="#00bfff"/>
<rect x="626" y="435" width="3" height="3" fill="#00bfff"/>
<rect x="630" y="433" width="3" height="1" fill="#00bfff"/>
<rect x="634" y="427" width="3" height="7" fill="#00bfff"/>
<rect x="638" y="419" width="3" height="15" fill="#00bfff"/>
<rect x="642" y="416" width="3" height="18" fill="#00bfff"/>
<rect x="646" y="414" width="3" height="20" fill="#00bfff"/>
<rect x="650" y="412" width="3" height="22" fill="#00bfff"/>
<rect x="654" y="413" width="3" height="21" fill="#00bfff"/>
<rect x="658" y="416" width="3" height="18" fill="#00bfff"/>
<rect x="662" y="421" width="3" height="13" fill="#00bfff"/>
<rect x="666" y="427" width="3" height="7" fill="#00bfff"/>
<rect x="670" y="432" width="3" height="2" fill="#00bfff"/>
<rect x="674" y="435" width="3" height="2" fill="#00bfff"/>
<rect x="678" y="435" width="3" height="5" fill="#00bfff"/>
<rect x="682" y="435" width="3" height="8" fill="#00bfff"/>
<rect x="686" y="435" width="3" height="10" fill="#00bfff"/>
<rect x="690" y="435" width="3" height="9" fill="#00bfff"/>
<rect x="694" y="435" width="3" height="8" fill="#00bfff"/>
<rect x="698" y="435" width="3" height="6" fill="#00bfff"/>
<rect x="702" y="435" width="3" height="5" fill="#00bfff"/>
<rect x="706" y="435" width="3" height="6" fill="#00bfff"/>
<rect x="0" y="434" width="716" height="1" fill="#808080"/>
<line x1="0" y1="410.5" x2="716" y2="410.5" stroke="#b4b4b4" stroke-width="1" stroke-dasharray="3,3"/>
<line x1="0" y1="447.5" x2="716" y2="447.5" stroke="#b4b4b4" stroke-width="1" stroke-dasharray="3,3"/>
</g>
<defs><clipPath id="cs"><rect x="0" y="397" width="716" height="63"/></clipPath></defs>
<g clip-path="url(#cs)" shape-rendering="crispEdges">
<polyline points="0.0,448.5 3.4,444.1 5.5,435.9 8.3,418.0 10.3,406.3 13.8,405.9 17.9,407.0 20.6,410.4 24.1,418.0 27.5,429.7 31.6,426.3 35.1,427.6 39.2,421.4 43.3,421.4 47.5,416.4 52.3,422.1 55.0,435.9 59.1,442.8 63.3,444.4 68.8,442.8 75.0,441.1 79.8,444.8 83.9,446.9 87.3,449.4 91.5,444.4 94.9,446.2 100.8,452.4 105.5,455.6 110.3,457.2 115.1,455.6 119.8,446.9 124.6,432.6 128.6,419.8 131.8,410.3 135.0,406.3 138.9,404.7 143.7,406.3 148.5,407.9 153.2,413.5 159.6,420.2 163.6,415.4 169.1,418.3 172.3,422.2 175.5,428.6 181.9,421.4 187.4,414.8 191.4,422.2 196.2,420.6 200.1,418.3 204.1,407.9 210.5,413.5 214.4,425.4 218.4,431.0 222.3,442.1 227.1,444.5 231.1,450.1 235.8,451.3 240.6,449.3 244.6,442.1 247.8,427.8 251.0,413.5 254.1,407.1 258.1,404.3 261.3,407.9 264.5,418.3 268.4,432.6 272.4,443.7 277.2,451.6 282.7,454.5 288.3,448.5 292.3,440.5 296.3,427.8 300.2,413.5 303.4,404.7 307.4,405.2 315.3,405.5 321.7,411.9 326.5,417.5 331.2,425.4 335.2,431.8 339.1,435.7 347.1,436.5 351.8,444.0 355.8,433.8 359.8,442.1 363.8,432.9 372.5,432.9 375.7,438.9 379.7,449.7 386.8,450.4 391.6,448.1 398.0,447.2 402.7,445.3 407.5,442.1 411.5,435.7 415.4,429.4 420.2,424.6 427.4,421.4 432.1,417.0 436.1,416.3 439.3,434.2 443.3,421.4 447.2,428.6 451.9,434.2 455.9,442.1 459.9,450.9 463.9,455.6 467.8,456.7 472.6,454.8 475.8,450.4 479.8,453.2 483.7,452.9 487.7,455.1 491.7,451.6 495.7,450.9 499.6,446.9 503.6,443.7 507.6,436.5 511.6,437.3 515.5,441.3 520.3,441.8 523.5,443.7 526.7,434.2 530.6,418.3 533.8,407.1 537.0,402.7 541.0,403.2 545.7,404.3 551.3,405.2 555.3,402.7 560.0,405.0 566.4,407.4 574.3,410.3 577.5,416.7 580.7,427.8 583.1,437.3 587.0,442.9 591.5,449.7 596.6,444.5 601.3,441.3 607.4,432.6 610.9,440.5 615.6,448.5 618.8,438.9 622.8,424.6 626.8,411.9 630.7,406.3 635.5,402.4 639.5,400.5 643.5,402.4 649.0,402.7 652.2,403.6 657.0,403.2 661.0,408.7 664.1,416.7 667.3,427.8 669.7,438.9 672.9,446.9 675.6,451.7 679.8,448.3 683.2,449.4 686.0,442.8 689.4,428.3 692.8,419.4 696.3,413.2 699.7,411.1 703.1,412.5 706.6,417.7" fill="none" stroke="#0000ff" stroke-width="1" stroke-linejoin="round" />
<polyline points="0.0,449.0 3.4,445.5 7.6,438.6 11.0,424.9 13.8,414.6 17.2,407.7 22.0,409.8 26.1,416.6 29.6,423.5 33.0,426.9 36.5,427.6 39.9,425.2 44.0,422.1 48.1,419.4 53.0,420.8 56.4,426.9 59.8,434.5 62.6,440.0 66.7,443.0 71.5,442.8 77.0,442.1 81.2,443.5 85.3,445.2 89.4,447.2 93.5,445.8 97.7,447.6 100.8,450.0 105.5,454.0 111.9,456.4 116.7,454.0 121.4,446.9 126.2,438.1 130.2,427.8 134.2,415.9 137.3,410.3 141.3,407.1 146.9,407.1 151.6,409.5 156.4,412.7 161.2,416.7 166.0,416.7 170.7,417.5 174.7,423.0 178.7,424.6 183.4,422.2 188.2,419.1 193.0,419.5 197.7,419.1 202.5,415.1 207.3,411.9 211.3,412.5 216.0,419.8 219.9,427.8 223.9,436.5 227.9,442.1 231.9,446.9 235.8,449.3 240.6,449.3 244.6,445.3 248.6,435.7 252.5,423.0 256.5,411.9 261.3,407.1 265.3,411.9 269.2,422.2 273.2,433.4 277.2,442.9 282.0,450.1 285.9,452.4 290.7,449.3 294.7,442.1 298.6,431.0 302.6,419.8 306.6,411.1 311.4,406.3 316.9,405.9 321.7,407.4 326.5,411.1 332.0,418.3 335.9,426.2 340.7,432.6 345.5,435.4 350.3,438.1 354.2,438.9 359.0,438.1 363.8,436.1 369.3,433.8 374.9,434.2 378.9,439.7 382.9,445.3 387.6,449.3 393.2,448.1 399.5,447.2 405.9,445.0 410.7,440.5 414.6,434.9 419.4,430.2 423.4,425.4 428.2,422.2 432.9,419.1 437.7,420.6 440.9,423.0 445.6,427.0 448.0,425.4 451.9,430.2 455.1,435.7 459.1,442.1 463.1,448.5 467.1,453.6 471.8,455.1 476.6,453.2 482.2,452.9 486.9,453.6 491.7,452.9 496.5,451.6 501.2,449.3 506.0,445.3 510.0,440.5 514.0,438.1 518.7,439.7 523.5,441.3 528.3,436.5 532.2,426.2 536.2,413.5 540.2,405.5 545.7,403.6 551.3,404.3 556.9,403.6 561.6,405.2 564.8,405.2 569.5,407.1 574.3,410.3 579.1,415.9 583.1,425.4 587.0,435.7 591.0,442.9 595.8,446.9 600.5,444.5 605.3,439.7 609.3,436.5 614.1,440.5 618.0,443.4 622.0,438.9 626.0,427.8 630.0,416.7 633.9,409.5 637.9,404.0 642.7,401.6 648.2,402.4 654.6,402.4 660.2,404.7 664.1,410.3 668.1,421.4 671.3,430.2 674.5,438.9 677.0,444.1 680.4,448.0 684.6,448.0 688.0,442.8 691.5,434.5 694.9,426.3 698.3,418.0 701.8,413.9 705.2,413.2" fill="none" stroke="#ff0000" stroke-width="1" stroke-linejoin="round" stroke-dasharray="3,3"/>
</g>
<rect x="717" y="28" width="2" height="1" fill="#000" shape-rendering="crispEdges"/>
<text x="722" y="32" font-size="10" fill="#000" stroke="#000" stroke-width="0.15" text-rendering="geometricPrecision" font-family="Liberation Sans, sans-serif" textLength="27.5" lengthAdjust="spacingAndGlyphs" text-anchor="start">63.990</text>
<rect x="717" y="61" width="2" height="1" fill="#000" shape-rendering="crispEdges"/>
<text x="722" y="65" font-size="10" fill="#000" stroke="#000" stroke-width="0.15" text-rendering="geometricPrecision" font-family="Liberation Sans, sans-serif" textLength="27.5" lengthAdjust="spacingAndGlyphs" text-anchor="start">63.650</text>
<rect x="717" y="94" width="2" height="1" fill="#000" shape-rendering="crispEdges"/>
<text x="722" y="98" font-size="10" fill="#000" stroke="#000" stroke-width="0.15" text-rendering="geometricPrecision" font-family="Liberation Sans, sans-serif" textLength="27.5" lengthAdjust="spacingAndGlyphs" text-anchor="start">63.320</text>
<rect x="717" y="127" width="2" height="1" fill="#000" shape-rendering="crispEdges"/>
<text x="722" y="131" font-size="10" fill="#000" stroke="#000" stroke-width="0.15" text-rendering="geometricPrecision" font-family="Liberation Sans, sans-serif" textLength="27.5" lengthAdjust="spacingAndGlyphs" text-anchor="start">62.980</text>
<rect x="717" y="160" width="2" height="1" fill="#000" shape-rendering="crispEdges"/>
<text x="722" y="164" font-size="10" fill="#000" stroke="#000" stroke-width="0.15" text-rendering="geometricPrecision" font-family="Liberation Sans, sans-serif" textLength="27.5" lengthAdjust="spacingAndGlyphs" text-anchor="start">62.640</text>
<rect x="717" y="193" width="2" height="1" fill="#000" shape-rendering="crispEdges"/>
<text x="722" y="197" font-size="10" fill="#000" stroke="#000" stroke-width="0.15" text-rendering="geometricPrecision" font-family="Liberation Sans, sans-serif" textLength="27.5" lengthAdjust="spacingAndGlyphs" text-anchor="start">62.310</text>
<rect x="717" y="226" width="2" height="1" fill="#000" shape-rendering="crispEdges"/>
<text x="722" y="230" font-size="10" fill="#000" stroke="#000" stroke-width="0.15" text-rendering="geometricPrecision" font-family="Liberation Sans, sans-serif" textLength="27.5" lengthAdjust="spacingAndGlyphs" text-anchor="start">61.970</text>
<rect x="717" y="259" width="2" height="1" fill="#000" shape-rendering="crispEdges"/>
<text x="722" y="263" font-size="10" fill="#000" stroke="#000" stroke-width="0.15" text-rendering="geometricPrecision" font-family="Liberation Sans, sans-serif" textLength="27.5" lengthAdjust="spacingAndGlyphs" text-anchor="start">61.630</text>
<rect x="717" y="292" width="2" height="1" fill="#000" shape-rendering="crispEdges"/>
<text x="722" y="296" font-size="10" fill="#000" stroke="#000" stroke-width="0.15" text-rendering="geometricPrecision" font-family="Liberation Sans, sans-serif" textLength="27.5" lengthAdjust="spacingAndGlyphs" text-anchor="start">61.300</text>
<rect x="717" y="325" width="2" height="1" fill="#000" shape-rendering="crispEdges"/>
<text x="722" y="329" font-size="10" fill="#000" stroke="#000" stroke-width="0.15" text-rendering="geometricPrecision" font-family="Liberation Sans, sans-serif" textLength="27.5" lengthAdjust="spacingAndGlyphs" text-anchor="start">60.960</text>
<rect x="717" y="358" width="2" height="1" fill="#000" shape-rendering="crispEdges"/>
<text x="722" y="362" font-size="10" fill="#000" stroke="#000" stroke-width="0.15" text-rendering="geometricPrecision" font-family="Liberation Sans, sans-serif" textLength="27.5" lengthAdjust="spacingAndGlyphs" text-anchor="start">60.620</text>
<rect x="717" y="391" width="2" height="1" fill="#000" shape-rendering="crispEdges"/>
<text x="722" y="395" font-size="10" fill="#000" stroke="#000" stroke-width="0.15" text-rendering="geometricPrecision" font-family="Liberation Sans, sans-serif" textLength="27.5" lengthAdjust="spacingAndGlyphs" text-anchor="start">60.290</text>
<rect x="718" y="31" width="36" height="10" fill="#a9a9a9" shape-rendering="crispEdges"/>
<text x="722" y="40" font-size="10" fill="#fff" stroke="#fff" stroke-width="0.15" text-rendering="geometricPrecision" font-family="Liberation Sans, sans-serif" textLength="27.5" lengthAdjust="spacingAndGlyphs" text-anchor="start">63.900</text>
<rect x="718" y="60" width="36" height="11" fill="#a9a9a9" shape-rendering="crispEdges"/>
<text x="722" y="69" font-size="10" fill="#fff" stroke="#fff" stroke-width="0.15" text-rendering="geometricPrecision" font-family="Liberation Sans, sans-serif" textLength="27.5" lengthAdjust="spacingAndGlyphs" text-anchor="start">63.600</text>
<rect x="718" y="119" width="36" height="11" fill="#a9a9a9" shape-rendering="crispEdges"/>
<text x="722" y="128" font-size="10" fill="#fff" stroke="#fff" stroke-width="0.15" text-rendering="geometricPrecision" font-family="Liberation Sans, sans-serif" textLength="27.5" lengthAdjust="spacingAndGlyphs" text-anchor="start">63.000</text>
<rect x="718" y="173" width="36" height="11" fill="#a9a9a9" shape-rendering="crispEdges"/>
<text x="722" y="182" font-size="10" fill="#fff" stroke="#fff" stroke-width="0.15" text-rendering="geometricPrecision" font-family="Liberation Sans, sans-serif" textLength="27.5" lengthAdjust="spacingAndGlyphs" text-anchor="start">62.450</text>
<rect x="718" y="237" width="36" height="11" fill="#a9a9a9" shape-rendering="crispEdges"/>
<text x="722" y="246" font-size="10" fill="#fff" stroke="#fff" stroke-width="0.15" text-rendering="geometricPrecision" font-family="Liberation Sans, sans-serif" textLength="27.5" lengthAdjust="spacingAndGlyphs" text-anchor="start">61.800</text>
<rect x="718" y="374" width="36" height="11" fill="#a9a9a9" shape-rendering="crispEdges"/>
<text x="722" y="383" font-size="10" fill="#fff" stroke="#fff" stroke-width="0.15" text-rendering="geometricPrecision" font-family="Liberation Sans, sans-serif" textLength="27.5" lengthAdjust="spacingAndGlyphs" text-anchor="start">60.400</text>
<rect x="718" y="42" width="36" height="10" fill="#000" shape-rendering="crispEdges"/>
<text x="722" y="50" font-size="10" fill="#fff" stroke="#fff" stroke-width="0.15" text-rendering="geometricPrecision" font-family="Liberation Sans, sans-serif" textLength="27.5" lengthAdjust="spacingAndGlyphs" text-anchor="start">63.810</text>
<text x="697.5" y="34.5" font-size="10" fill="#0000ff" stroke="#0000ff" stroke-width="0.15" text-rendering="geometricPrecision" font-family="Liberation Sans, sans-serif" textLength="17.5" lengthAdjust="spacingAndGlyphs" text-anchor="start">38.2</text>
<path d="M2 5.8 L8.8 5.8 L5.4 9.6 Z" fill="#000"/>
<text x="14.6" y="11" font-size="10" fill="#000" stroke="#000" stroke-width="0.15" text-rendering="geometricPrecision" font-family="Liberation Sans, sans-serif" textLength="49" lengthAdjust="spacingAndGlyphs" text-anchor="start">UKBrent,H1</text>
<text x="70.5" y="11" font-size="10" fill="#000" stroke="#000" stroke-width="0.15" text-rendering="geometricPrecision" font-family="Liberation Sans, sans-serif" textLength="27.1" lengthAdjust="spacingAndGlyphs" text-anchor="start">63.910</text>
<text x="101.2" y="11" font-size="10" fill="#000" stroke="#000" stroke-width="0.15" text-rendering="geometricPrecision" font-family="Liberation Sans, sans-serif" textLength="27.1" lengthAdjust="spacingAndGlyphs" text-anchor="start">63.940</text>
<text x="132.1" y="11" font-size="10" fill="#000" stroke="#000" stroke-width="0.15" text-rendering="geometricPrecision" font-family="Liberation Sans, sans-serif" textLength="27.1" lengthAdjust="spacingAndGlyphs" text-anchor="start">63.640</text>
<text x="163.6" y="11" font-size="10" fill="#000" stroke="#000" stroke-width="0.15" text-rendering="geometricPrecision" font-family="Liberation Sans, sans-serif" textLength="27.1" lengthAdjust="spacingAndGlyphs" text-anchor="start">63.810</text>
<text x="3.4" y="409" font-size="10" fill="#000" stroke="#000" stroke-width="0.15" text-rendering="geometricPrecision" font-family="Liberation Sans, sans-serif" textLength="64" lengthAdjust="spacingAndGlyphs" text-anchor="start">OsMA(12,26,9)</text>
<text x="70.4" y="409" font-size="10" fill="#000" stroke="#000" stroke-width="0.15" text-rendering="geometricPrecision" font-family="Liberation Sans, sans-serif" textLength="35.5" lengthAdjust="spacingAndGlyphs" text-anchor="start">-0,04625</text>
<text x="112.7" y="409" font-size="10" fill="#000" stroke="#000" stroke-width="0.15" text-rendering="geometricPrecision" font-family="Liberation Sans, sans-serif" textLength="48.8" lengthAdjust="spacingAndGlyphs" text-anchor="start">Stoch(5,3,3)</text>
<text x="165.6" y="409" font-size="10" fill="#000" stroke="#000" stroke-width="0.15" text-rendering="geometricPrecision" font-family="Liberation Sans, sans-serif" textLength="31.4" lengthAdjust="spacingAndGlyphs" text-anchor="start">67.3203</text>
<text x="201.7" y="409" font-size="10" fill="#000" stroke="#000" stroke-width="0.15" text-rendering="geometricPrecision" font-family="Liberation Sans, sans-serif" textLength="31.8" lengthAdjust="spacingAndGlyphs" text-anchor="start">73.4672</text>
<text x="720" y="407" font-size="10" fill="#000" stroke="#000" stroke-width="0.15" text-rendering="geometricPrecision" font-family="Liberation Sans, sans-serif" textLength="33" lengthAdjust="spacingAndGlyphs" text-anchor="start">0.30599</text>
<text x="720" y="414" font-size="10" fill="#000" stroke="#000" stroke-width="0.15" text-rendering="geometricPrecision" font-family="Liberation Sans, sans-serif" textLength="9.5" lengthAdjust="spacingAndGlyphs" text-anchor="start">80</text>
<rect x="718" y="430" width="6" height="10" fill="#808890" shape-rendering="crispEdges"/>
<text x="720" y="437.8" font-size="10" fill="#000" stroke="#000" stroke-width="0.15" text-rendering="geometricPrecision" font-family="Liberation Sans, sans-serif" textLength="20" lengthAdjust="spacingAndGlyphs" text-anchor="start">0.00</text>
<text x="720" y="451" font-size="10" fill="#000" stroke="#000" stroke-width="0.15" text-rendering="geometricPrecision" font-family="Liberation Sans, sans-serif" textLength="9.5" lengthAdjust="spacingAndGlyphs" text-anchor="start">20</text>
<text x="719.5" y="457.5" font-size="10" fill="#000" stroke="#000" stroke-width="0.15" text-rendering="geometricPrecision" font-family="Liberation Sans, sans-serif" textLength="36" lengthAdjust="spacingAndGlyphs" text-anchor="start">-0.20841</text>
<rect x="717" y="398" width="2" height="1" fill="#000" shape-rendering="crispEdges"/>
<rect x="717" y="410" width="2" height="1" fill="#000" shape-rendering="crispEdges"/>
<rect x="717" y="434" width="2" height="1" fill="#000" shape-rendering="crispEdges"/>
<rect x="717" y="447" width="2" height="1" fill="#000" shape-rendering="crispEdges"/>
<rect x="717" y="457" width="2" height="1" fill="#000" shape-rendering="crispEdges"/>
<text x="-1" y="473" font-size="10" fill="#000" stroke="#000" stroke-width="0.15" text-rendering="geometricPrecision" font-family="Liberation Sans, sans-serif" textLength="52.5" lengthAdjust="spacingAndGlyphs" text-anchor="start">12 Nov 2019</text>
<rect x="63" y="461" width="1" height="3" fill="#000" shape-rendering="crispEdges"/>
<text x="62.7" y="473" font-size="10" fill="#000" stroke="#000" stroke-width="0.15" text-rendering="geometricPrecision" font-family="Liberation Sans, sans-serif" textLength="56" lengthAdjust="spacingAndGlyphs" text-anchor="start">12 Nov 20:00</text>
<rect x="127" y="461" width="1" height="3" fill="#000" shape-rendering="crispEdges"/>
<text x="126.7" y="473" font-size="10" fill="#000" stroke="#000" stroke-width="0.15" text-rendering="geometricPrecision" font-family="Liberation Sans, sans-serif" textLength="56" lengthAdjust="spacingAndGlyphs" text-anchor="start">13 Nov 15:00</text>
<rect x="191" y="461" width="1" height="3" fill="#000" shape-rendering="crispEdges"/>
<text x="190.7" y="473" font-size="10" fill="#000" stroke="#000" stroke-width="0.15" text-rendering="geometricPrecision" font-family="Liberation Sans, sans-serif" textLength="56" lengthAdjust="spacingAndGlyphs" text-anchor="start">14 Nov 10:00</text>
<rect x="255" y="461" width="1" height="3" fill="#000" shape-rendering="crispEdges"/>
<text x="254.7" y="473" font-size="10" fill="#000" stroke="#000" stroke-width="0.15" text-rendering="geometricPrecision" font-family="Liberation Sans, sans-serif" textLength="56" lengthAdjust="spacingAndGlyphs" text-anchor="start">15 Nov 05:00</text>
<rect x="319" y="461" width="1" height="3" fill="#000" shape-rendering="crispEdges"/>
<text x="318.7" y="473" font-size="10" fill="#000" stroke="#000" stroke-width="0.15" text-rendering="geometricPrecision" font-family="Liberation Sans, sans-serif" textLength="56" lengthAdjust="spacingAndGlyphs" text-anchor="start">15 Nov 21:00</text>
<rect x="383" y="461" width="1" height="3" fill="#000" shape-rendering="crispEdges"/>
<text x="382.7" y="473" font-size="10" fill="#000" stroke="#000" stroke-width="0.15" text-rendering="geometricPrecision" font-family="Liberation Sans, sans-serif" textLength="56" lengthAdjust="spacingAndGlyphs" text-anchor="start">18 Nov 16:00</text>
<rect x="447" y="461" width="1" height="3" fill="#000" shape-rendering="crispEdges"/>
<text x="446.7" y="473" font-size="10" fill="#000" stroke="#000" stroke-width="0.15" text-rendering="geometricPrecision" font-family="Liberation Sans, sans-serif" textLength="56" lengthAdjust="spacingAndGlyphs" text-anchor="start">19 Nov 11:00</text>
<rect x="511" y="461" width="1" height="3" fill="#000" shape-rendering="crispEdges"/>
<text x="510.7" y="473" font-size="10" fill="#000" stroke="#000" stroke-width="0.15" text-rendering="geometricPrecision" font-family="Liberation Sans, sans-serif" textLength="56" lengthAdjust="spacingAndGlyphs" text-anchor="start">20 Nov 06:00</text>
<rect x="575" y="461" width="1" height="3" fill="#000" shape-rendering="crispEdges"/>
<text x="574.7" y="473" font-size="10" fill="#000" stroke="#000" stroke-width="0.15" text-rendering="geometricPrecision" font-family="Liberation Sans, sans-serif" textLength="56" lengthAdjust="spacingAndGlyphs" text-anchor="start">20 Nov 22:00</text>
<rect x="639" y="461" width="1" height="3" fill="#000" shape-rendering="crispEdges"/>
<text x="638.7" y="473" font-size="10" fill="#000" stroke="#000" stroke-width="0.15" text-rendering="geometricPrecision" font-family="Liberation Sans, sans-serif" textLength="56" lengthAdjust="spacingAndGlyphs" text-anchor="start">21 Nov 17:00</text>
<rect x="703" y="461" width="1" height="3" fill="#000" shape-rendering="crispEdges"/>
<text x="702.7" y="473" font-size="10" fill="#000" stroke="#000" stroke-width="0.15" text-rendering="geometricPrecision" font-family="Liberation Sans, sans-serif" textLength="56" lengthAdjust="spacingAndGlyphs" text-anchor="start">22 Nov 12:00</text></svg></body></html>
